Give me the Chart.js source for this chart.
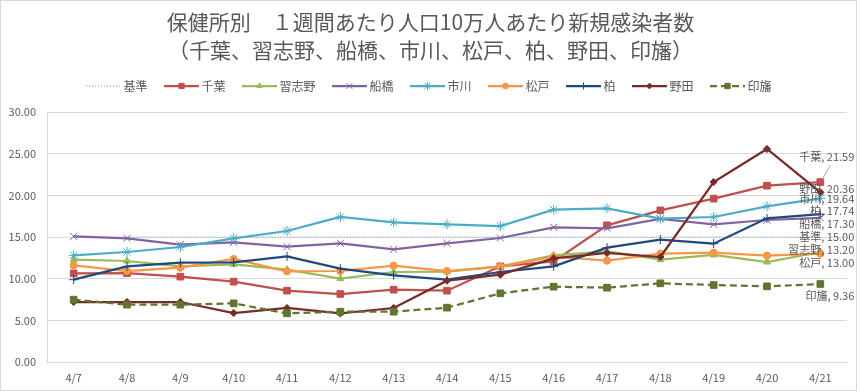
<!doctype html>
<html lang="ja">
<head>
<meta charset="utf-8">
<title>保健所別 新規感染者数</title>
<script src="https://cdn.jsdelivr.net/npm/chart.js"></script>
<style>
    html, body { margin: 0; padding: 0; background: #fff; }
    #wrap { width: 861px; height: 392px; }
</style>
</head>
<body>
<div id="wrap"><canvas id="myChart"></canvas></div>
<script>
    // data
    const days = ['4/7', '4/8', '4/9', '4/10', '4/11', '4/12', '4/13', '4/14', '4/15', '4/16', '4/17', '4/18', '4/19', '4/20', '4/21'];
    const kijun     = [15, 15, 15, 15, 15, 15, 15, 15, 15, 15, 15, 15, 15, 15, 15];
    const chiba     = [10.63, 10.67, 10.24, 9.64, 8.56, 8.16, 8.68, 8.56, 11.48, 12.08, 16.40, 18.20, 19.60, 21.16, 21.59];
    const narashino = [12.28, 12.12, 11.48, 11.72, 11.08, 10.00, 10.80, 10.84, 11.48, 12.80, 13.28, 12.28, 12.84, 12.00, 13.20];
    const funabashi = [15.08, 14.84, 14.08, 14.36, 13.84, 14.24, 13.52, 14.24, 14.88, 16.16, 16.04, 17.16, 16.52, 17.04, 17.30];
    const ichikawa  = [12.80, 13.20, 13.80, 14.84, 15.72, 17.40, 16.76, 16.52, 16.32, 18.28, 18.44, 17.20, 17.40, 18.68, 19.64];
    const matsudo   = [11.60, 10.92, 11.32, 12.36, 10.88, 10.92, 11.56, 10.92, 11.44, 12.64, 12.16, 13.00, 13.12, 12.76, 13.00];
    const kashiwa   = [9.88, 11.48, 11.92, 11.96, 12.68, 11.20, 10.40, 9.88, 10.80, 11.48, 13.72, 14.68, 14.20, 17.24, 17.74];
    const noda      = [7.20, 7.20, 7.20, 5.88, 6.48, 5.84, 6.48, 9.76, 10.48, 12.44, 13.08, 12.60, 21.60, 25.56, 20.36];
    const inba      = [7.48, 6.88, 6.88, 7.04, 5.84, 6.04, 6.04, 6.52, 8.24, 9.04, 8.92, 9.44, 9.24, 9.08, 9.36];

    const titleLines = ['保健所別　１週間あたり人口10万人あたり新規感染者数', '（千葉、習志野、船橋、市川、松戸、柏、野田、印旛）'];

    Chart.defaults.font.family = '"Noto Sans CJK JP", "Noto Sans", sans-serif';
    Chart.defaults.color = '#595959';

    // series: label, data, color, marker, radius, dash
    const series = [
        ['基準', kijun, '#8497B0', false, 0, [1, 2]],
        ['千葉', chiba, '#C0504D', 'rect', 4.7, []],
        ['習志野', narashino, '#9BBB59', 'triangle', 4, []],
        ['船橋', funabashi, '#8064A2', 'crossRot', 5, []],
        ['市川', ichikawa, '#4BACC6', 'star', 5, []],
        ['松戸', matsudo, '#F79646', 'circle', 3.6, []],
        ['柏', kashiwa, '#1F497D', 'cross', 4.5, []],
        ['野田', noda, '#772C2A', 'rectRot', 3.6, []],
        ['印旛', inba, '#5F7530', 'rect', 4.7, [7, 4]]
    ];

    function legendIcon(s) {
        const c = document.createElement('canvas');
        c.width = 35;
        c.height = 12;
        const g = c.getContext('2d');
        g.strokeStyle = s[2];
        g.fillStyle = s[2];
        g.lineWidth = s[3] ? 2.25 : 1;
        g.setLineDash(s[5]);
        g.beginPath();
        g.moveTo(0, 6);
        g.lineTo(35, 6);
        g.stroke();
        g.setLineDash([]);
        if (s[3]) {
            g.lineWidth = 1;
            Chart.helpers.drawPoint(g, {pointStyle: s[3], radius: s[4] * 0.8, rotation: 0, borderWidth: 1}, 17.5, 6);
        }
        return c;
    }

    const icons = series.map(legendIcon);

    const datasets = series.map((s, i) => ({
        label: s[0],
        data: s[1],
        borderColor: s[2],
        backgroundColor: s[2],
        borderWidth: s[3] ? 2.25 : 1,
        borderDash: s[5],
        pointStyle: s[3] || 'circle',
        pointRadius: s[3] ? s[4] : 0,
        pointHoverRadius: s[3] ? s[4] : 0,
        pointBorderWidth: 1,
        tension: 0,
        order: series.length - i
    }));

    // end-of-line labels, vertical nudges like the original
    const labelNudge = [0, -25, -2.4, 6, 0, 9, -3.5, -3.4, 12];
    const endLabels = {
        id: 'endLabels',
        afterDatasetsDraw(chart) {
            const ctx = chart.ctx;
            ctx.save();
            ctx.font = '11px "Noto Sans CJK JP"';
            ctx.fillStyle = '#595959';
            ctx.textAlign = 'right';
            ctx.textBaseline = 'middle';
            chart.data.datasets.forEach((ds, i) => {
                const meta = chart.getDatasetMeta(i);
                const pt = meta.data[meta.data.length - 1];
                const v = ds.data[ds.data.length - 1];
                ctx.fillText(ds.label + ', ' + v.toFixed(2), pt.x + 34, pt.y + labelNudge[i]);
                if (i === 1) {
                    ctx.strokeStyle = '#a6a6a6';
                    ctx.lineWidth = 1;
                    ctx.beginPath();
                    ctx.moveTo(pt.x + 10, pt.y - 17);
                    ctx.lineTo(pt.x + 2, pt.y - 3);
                    ctx.stroke();
                }
            });
            ctx.restore();
        }
    };

    const frame = {
        id: 'frame',
        beforeInit(chart) {
            const fit = chart.legend.fit;
            chart.legend.fit = function () {
                fit.bind(chart.legend)();
                this.height += 10;
            };
        },
        afterDraw(chart) {
            const ctx = chart.ctx;
            ctx.save();
            ctx.strokeStyle = '#d9d9d9';
            ctx.lineWidth = 1;
            ctx.strokeRect(0.5, 0.5, 856, 390);
            ctx.restore();
        }
    };

    new Chart(document.getElementById('myChart'), {
        type: 'line',
        data: {labels: days, datasets: datasets},
        plugins: [endLabels, frame],
        options: {
            responsive: true,
            maintainAspectRatio: false,
            animation: false,
            layout: {padding: 0},
            plugins: {
                title: {
                    display: true,
                    text: titleLines,
                    color: '#595959',
                    font: {size: 21, weight: 'normal', lineHeight: 28 / 21},
                    padding: {top: 8, bottom: -4}
                },
                legend: {
                    position: 'top',
                    labels: {
                        usePointStyle: true,
                        pointStyleWidth: 28,
                        padding: 20,
                        color: '#595959',
                        font: {size: 12},
                        sort: (a, b) => a.datasetIndex - b.datasetIndex,
                        generateLabels(chart) {
                            const items = Chart.defaults.plugins.legend.labels.generateLabels(chart);
                            items.forEach(it => { it.pointStyle = icons[it.datasetIndex]; });
                            return items;
                        }
                    }
                },
                tooltip: {enabled: false}
            },
            scales: {
                x: {
                    offset: true,
                    grid: {display: false, drawTicks: false},
                    border: {display: true, color: '#d9d9d9'},
                    ticks: {color: '#595959', font: {size: 11}, padding: 9, maxRotation: 0, autoSkip: false},
                    afterFit(scale) { scale.height = 30; }
                },
                y: {
                    min: 0,
                    max: 30,
                    grid: {color: '#d9d9d9', drawTicks: false},
                    border: {display: true, color: '#d9d9d9'},
                    ticks: {stepSize: 5, color: '#595959', font: {size: 11}, padding: 11,
                        callback: v => v.toFixed(2)},
                    afterFit(scale) { scale.width = 47; }
                },
                y2: {
                    position: 'right',
                    grid: {display: false},
                    border: {display: false},
                    ticks: {display: false},
                    afterFit(scale) { scale.width = 14; }
                }
            }
        }
    });
</script>
</body>
</html>
